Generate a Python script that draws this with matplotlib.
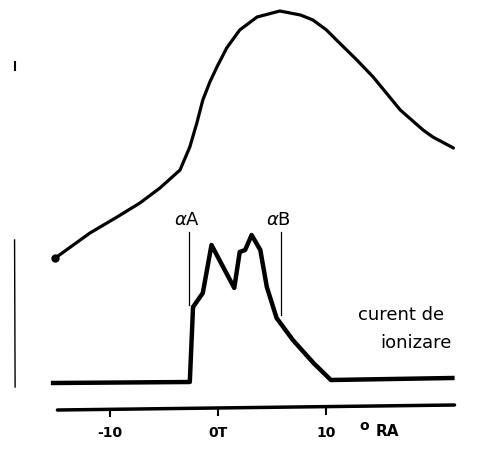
import numpy as np
import matplotlib.pyplot as plt

# curba de sus (unitati arbitrare), x in grade RA
x_sus = [-15.0, -11.8, -9.3, -7.2, -5.35, -3.5, -2.6, -1.95, -1.4, -0.75, -0.1, 0.8,
         2.0, 3.6, 5.7, 7.6, 8.75, 10.0, 11.2, 12.8, 14.3, 16.8, 18.9, 19.8, 21.7]
y_sus = [192, 217, 233, 247, 262, 280, 303, 327, 350, 368, 383, 402,
         420, 433, 439, 435, 430, 420, 407, 390, 373, 340, 320, 313, 302]

# curent de ionizare
x_ion = [-15.2, -2.6, -2.3, -1.4, -0.6, 1.5, 2.0, 2.5, 3.1, 3.9, 4.5, 5.4, 6.9, 8.8, 10.4, 21.6]
y_ion = [67, 68, 143, 157, 205, 162, 198, 200, 215, 200, 163, 132, 110, 87, 70, 72]

# linii verticale alfa A / alfa B
x_alfa = [-2.7, 5.8]
y_alfa_jos = [145, 135]
y_alfa_sus = [218, 218]
etichete_alfa = ["$\\alpha$A", "$\\alpha$B"]

# axa de jos
axa_x = [-14.8, 21.8]
axa_y = [40, 45]
ticks = [-10, 0, 10]
tick_labels = ["-10", "0T", "10"]

fig = plt.figure(figsize=(4.92, 4.5), dpi=100)
ax = fig.add_axes([0, 0, 1, 1])
ax.set_xlim(-218 / 10.85, (492 - 218) / 10.85)
ax.set_ylim(0, 450)
ax.axis("off")

ax.plot(x_sus, y_sus, color="black", lw=2.3, solid_capstyle="round", solid_joinstyle="round")
ax.plot(x_sus[0], y_sus[0], "o", color="black", ms=5)
ax.plot(x_ion, y_ion, color="black", lw=3.2, solid_joinstyle="round")

for xa, y0, y1, lab in zip(x_alfa, y_alfa_jos, y_alfa_sus, etichete_alfa):
    ax.plot([xa, xa], [y0, y1], color="black", lw=0.9)
    ax.text(xa - 0.2, y1 + 3, lab, fontsize=13, ha="center", va="bottom")

ax.text(20.8, 135, "curent de", fontsize=13, ha="right", va="center")
ax.text(21.5, 107, "ionizare", fontsize=13, ha="right", va="center")

# axa orizontala
ax.plot(axa_x, axa_y, color="black", lw=2.5, solid_capstyle="round")
for t, lab in zip(ticks, tick_labels):
    yt = np.interp(t, axa_x, axa_y)
    ax.plot([t, t], [yt, yt - 7], color="black", lw=1.5)
    ax.text(t, 17, lab, fontsize=10, fontweight="bold", ha="center", va="center")
ax.text(13.5, 24, "o", fontsize=10, fontweight="bold", ha="center", va="center")
ax.text(15.6, 18, "RA", fontsize=11, fontweight="bold", ha="center", va="center")

# semne la marginea stanga
ax.plot([-18.7, -18.7], [380, 388], color="black", lw=1.5)
ax.plot([-18.7, -18.75], [63, 210], color="black", lw=1.0)

fig.savefig("out.png", dpi=100)
